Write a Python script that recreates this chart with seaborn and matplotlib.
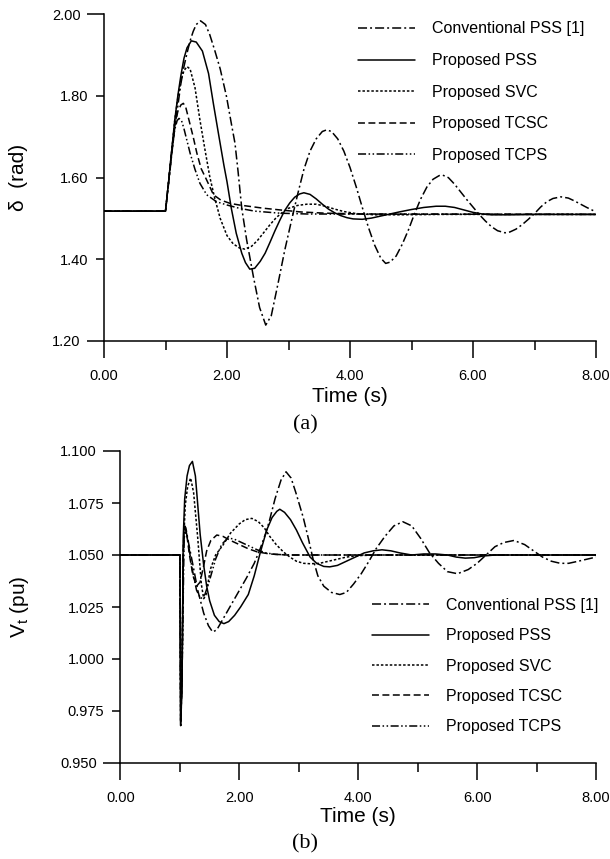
import numpy as np
import pandas as pd
import matplotlib
matplotlib.use("Agg")
import matplotlib.pyplot as plt
from matplotlib.lines import Line2D
import seaborn as sns

# ---------------------------------------------------------------- data
series_labels = ["Conventional PSS [1]", "Proposed PSS", "Proposed SVC",
                 "Proposed TCSC", "Proposed TCPS"]

# (a) rotor angle delta (rad) versus time (s)
t_delta_conv = [0.00, 1.00, 1.05, 1.10, 1.15, 1.20, 1.25, 1.30, 1.35, 1.40,
                1.45, 1.50, 1.57, 1.65, 1.72, 1.80, 1.89, 1.99, 2.07, 2.13,
                2.18, 2.24, 2.32, 2.43, 2.53, 2.63, 2.72, 2.83, 2.94, 3.05,
                3.15, 3.25, 3.35, 3.45, 3.55, 3.62, 3.70, 3.80, 3.90, 4.00,
                4.10, 4.20, 4.30, 4.40, 4.50, 4.58, 4.65, 4.75, 4.85, 4.95,
                5.05, 5.15, 5.25, 5.35, 5.45, 5.51, 5.60, 5.70, 5.80, 5.90,
                6.00, 6.10, 6.20, 6.30, 6.40, 6.52, 6.60, 6.70, 6.80, 6.90,
                7.00, 7.10, 7.20, 7.30, 7.43, 7.55, 7.65, 7.75, 7.85, 8.00]
delta_conv = [1.518, 1.518, 1.585, 1.655, 1.722, 1.775, 1.830, 1.872, 1.905, 1.935,
              1.958, 1.975, 1.984, 1.975, 1.950, 1.912, 1.866, 1.800, 1.733, 1.684,
              1.615, 1.525, 1.447, 1.357, 1.282, 1.239, 1.262, 1.341, 1.423, 1.496,
              1.560, 1.620, 1.665, 1.695, 1.713, 1.717, 1.713, 1.695, 1.665, 1.625,
              1.578, 1.527, 1.478, 1.435, 1.403, 1.390, 1.393, 1.408, 1.437, 1.472,
              1.512, 1.548, 1.577, 1.596, 1.605, 1.606, 1.600, 1.584, 1.565, 1.546,
              1.528, 1.510, 1.494, 1.480, 1.470, 1.465, 1.467, 1.474, 1.485, 1.498,
              1.512, 1.528, 1.541, 1.549, 1.553, 1.550, 1.543, 1.535, 1.527, 1.516]

t_delta_pss = [0.00, 1.00, 1.05, 1.10, 1.15, 1.20, 1.25, 1.30, 1.35, 1.42,
               1.50, 1.60, 1.70, 1.78, 1.87, 1.95, 2.00, 2.07, 2.15, 2.24,
               2.30, 2.37, 2.45, 2.54, 2.62, 2.70, 2.78, 2.86, 2.94, 3.02,
               3.10, 3.18, 3.25, 3.35, 3.45, 3.55, 3.65, 3.75, 3.85, 3.95,
               4.05, 4.20, 4.35, 4.50, 4.65, 4.80, 5.00, 5.20, 5.40, 5.55,
               5.70, 5.85, 6.00, 6.15, 6.30, 6.60, 7.00, 8.00]
delta_pss = [1.518, 1.518, 1.590, 1.665, 1.740, 1.800, 1.850, 1.892, 1.918, 1.935,
             1.932, 1.910, 1.855, 1.780, 1.700, 1.630, 1.590, 1.525, 1.464, 1.415,
             1.392, 1.376, 1.378, 1.395, 1.415, 1.442, 1.470, 1.496, 1.520, 1.538,
             1.552, 1.560, 1.563, 1.559, 1.548, 1.535, 1.523, 1.514, 1.507, 1.502,
             1.499, 1.498, 1.501, 1.506, 1.511, 1.516, 1.522, 1.527, 1.530, 1.530,
             1.527, 1.521, 1.515, 1.511, 1.509, 1.509, 1.510, 1.510]

t_delta_svc = [0.00, 1.00, 1.05, 1.10, 1.15, 1.20, 1.25, 1.30, 1.35, 1.40,
               1.48, 1.56, 1.64, 1.72, 1.80, 1.89, 2.00, 2.10, 2.20, 2.29,
               2.40, 2.50, 2.60, 2.70, 2.80, 2.90, 3.00, 3.15, 3.30, 3.45,
               3.60, 3.75, 3.90, 4.10, 4.40, 4.80, 5.50, 8.00]
delta_svc = [1.518, 1.518, 1.590, 1.665, 1.740, 1.795, 1.838, 1.862, 1.872, 1.866,
             1.820, 1.741, 1.670, 1.602, 1.550, 1.500, 1.458, 1.438, 1.428, 1.425,
             1.432, 1.447, 1.466, 1.485, 1.502, 1.515, 1.525, 1.532, 1.535, 1.535,
             1.530, 1.523, 1.517, 1.512, 1.509, 1.509, 1.510, 1.510]

t_delta_tcsc = [0.00, 1.00, 1.05, 1.10, 1.15, 1.20, 1.25, 1.29, 1.33, 1.38,
                1.45, 1.51, 1.58, 1.67, 1.78, 1.90, 2.05, 2.20, 2.40, 2.60,
                2.86, 3.20, 3.60, 4.20, 8.00]
delta_tcsc = [1.518, 1.518, 1.590, 1.662, 1.725, 1.762, 1.778, 1.782, 1.772, 1.742,
              1.700, 1.660, 1.622, 1.594, 1.558, 1.545, 1.537, 1.533, 1.529, 1.525,
              1.521, 1.516, 1.513, 1.511, 1.510]

t_delta_tcps = [0.00, 1.00, 1.05, 1.10, 1.15, 1.19, 1.22, 1.26, 1.30, 1.35,
                1.40, 1.48, 1.56, 1.67, 1.83, 2.00, 2.20, 2.45, 2.86, 3.30, 8.00]
delta_tcps = [1.518, 1.518, 1.590, 1.660, 1.718, 1.740, 1.745, 1.740, 1.720, 1.690,
              1.660, 1.620, 1.586, 1.558, 1.541, 1.533, 1.525, 1.518, 1.513, 1.511, 1.510]

# (b) terminal voltage Vt (pu) versus time (s)
t_vt_conv = [0.00, 1.00, 1.015, 1.035, 1.055, 1.08, 1.10, 1.15, 1.22, 1.30,
             1.40, 1.48, 1.55, 1.62, 1.72, 1.80, 1.90, 2.00, 2.12, 2.25,
             2.35, 2.45, 2.51, 2.60, 2.70, 2.785, 2.87, 2.95, 3.075, 3.16,
             3.24, 3.32, 3.42, 3.55, 3.69, 3.80, 3.92, 4.05, 4.18, 4.30,
             4.45, 4.60, 4.75, 4.90, 5.05, 5.20, 5.35, 5.50, 5.67, 5.85,
             6.00, 6.15, 6.30, 6.45, 6.62, 6.80, 6.95, 7.10, 7.25, 7.40,
             7.54, 7.70, 7.85, 8.00]
vt_conv = [1.050, 1.050, 0.968, 0.990, 1.050, 1.064, 1.063, 1.055, 1.045, 1.033,
           1.022, 1.016, 1.013, 1.014, 1.019, 1.023, 1.028, 1.033, 1.039, 1.046,
           1.053, 1.061, 1.067, 1.077, 1.086, 1.090, 1.087, 1.080, 1.068, 1.058,
           1.048, 1.040, 1.035, 1.032, 1.031, 1.032, 1.036, 1.041, 1.047, 1.053,
           1.059, 1.064, 1.066, 1.064, 1.058, 1.051, 1.046, 1.042, 1.041, 1.043,
           1.046, 1.050, 1.054, 1.056, 1.057, 1.055, 1.052, 1.049, 1.047, 1.046,
           1.046, 1.047, 1.048, 1.049]

t_vt_pss = [0.00, 1.00, 1.01, 1.035, 1.055, 1.08, 1.12, 1.16, 1.21, 1.26,
            1.34, 1.40, 1.45, 1.50, 1.58, 1.66, 1.74, 1.82, 1.92, 2.02,
            2.15, 2.25, 2.35, 2.46, 2.55, 2.63, 2.68, 2.76, 2.86, 2.96,
            3.06, 3.19, 3.30, 3.42, 3.52, 3.65, 3.80, 3.95, 4.10, 4.25,
            4.40, 4.55, 4.70, 4.90, 5.10, 5.30, 5.50, 5.65, 5.80, 5.95,
            6.10, 6.30, 8.00]
vt_pss = [1.050, 1.050, 0.968, 0.985, 1.058, 1.077, 1.088, 1.093, 1.095, 1.088,
          1.060, 1.045, 1.035, 1.028, 1.021, 1.018, 1.017, 1.018, 1.021, 1.025,
          1.031, 1.040, 1.051, 1.062, 1.068, 1.071, 1.072, 1.0705, 1.067, 1.062,
          1.056, 1.049, 1.046, 1.0445, 1.0443, 1.045, 1.047, 1.049, 1.051, 1.052,
          1.0525, 1.052, 1.051, 1.050, 1.0505, 1.0505, 1.050, 1.049, 1.0485, 1.0487,
          1.0495, 1.050, 1.050]

t_vt_svc = [0.00, 1.00, 1.012, 1.035, 1.06, 1.09, 1.13, 1.18, 1.23, 1.30,
            1.36, 1.40, 1.44, 1.51, 1.60, 1.73, 1.85, 2.00, 2.10, 2.21,
            2.32, 2.42, 2.51, 2.62, 2.74, 2.85, 2.96, 3.08, 3.19, 3.35,
            3.50, 3.65, 3.80, 4.00, 4.30, 8.00]
vt_svc = [1.050, 1.050, 0.970, 0.990, 1.055, 1.074, 1.083, 1.087, 1.080, 1.058,
          1.036, 1.029, 1.031, 1.043, 1.050, 1.055, 1.0605, 1.065, 1.067, 1.0676,
          1.066, 1.063, 1.059, 1.055, 1.0515, 1.049, 1.047, 1.046, 1.0458, 1.046,
          1.047, 1.048, 1.049, 1.0497, 1.050, 1.050]

t_vt_tcsc = [0.00, 1.00, 1.012, 1.035, 1.06, 1.08, 1.11, 1.16, 1.22, 1.28,
             1.34, 1.40, 1.45, 1.52, 1.62, 1.72, 1.85, 2.00, 2.15, 2.30,
             2.51, 2.80, 8.00]
vt_tcsc = [1.050, 1.050, 0.970, 0.995, 1.056, 1.063, 1.061, 1.050, 1.040, 1.035,
           1.037, 1.045, 1.052, 1.057, 1.0596, 1.059, 1.057, 1.055, 1.053, 1.0515,
           1.0505, 1.050, 1.050]

t_vt_tcps = [0.00, 1.00, 1.015, 1.04, 1.07, 1.10, 1.14, 1.20, 1.28, 1.35,
             1.42, 1.50, 1.60, 1.70, 1.80, 1.90, 2.00, 2.15, 2.30, 2.45,
             2.60, 2.90, 8.00]
vt_tcps = [1.050, 1.050, 0.972, 1.000, 1.058, 1.062, 1.056, 1.044, 1.033, 1.029,
           1.031, 1.038, 1.048, 1.055, 1.058, 1.0578, 1.0565, 1.0545, 1.0525, 1.051,
           1.0503, 1.050, 1.050]

x_ticks = [0, 2, 4, 6, 8]
x_ticklabels = ["0.00", "2.00", "4.00", "6.00", "8.00"]
x_minor = [1, 3, 5, 7]
delta_inner = [1.4, 1.6, 1.8]
delta_inner_labels = ["1.40", "1.60", "1.80"]
delta_ends = [1.2, 2.0]
delta_end_labels = ["1.20", "2.00"]
vt_inner = [0.975, 1.0, 1.025, 1.05, 1.075]
vt_inner_labels = ["0.975", "1.000", "1.025", "1.050", "1.075"]
vt_ends = [0.95, 1.10]
vt_end_labels = ["0.950", "1.100"]

# ---------------------------------------------------------------- style
sns.set_theme(context="paper", style="ticks")
plt.rcParams["font.family"] = ["Liberation Sans", "DejaVu Sans"]
plt.rcParams["mathtext.fontset"] = "custom"
plt.rcParams["mathtext.rm"] = "Liberation Sans"
plt.rcParams["mathtext.it"] = "Liberation Sans"
plt.rcParams["lines.scale_dashes"] = False
for key in ["axes.edgecolor", "xtick.color", "ytick.color", "text.color",
            "axes.labelcolor"]:
    plt.rcParams[key] = "black"

LW = 1.1
dash_styles = {
    series_labels[0]: (6.5, 2.2, 1.4, 2.2),
    series_labels[1]: "",
    series_labels[2]: (1.8, 1.4),
    series_labels[3]: (5.0, 2.5),
    series_labels[4]: (5.8, 1.8, 1.1, 1.8, 1.1, 1.8),
}


def long_frame(times, values):
    parts = [pd.DataFrame({"t": t, "v": v, "series": name})
             for name, t, v in zip(series_labels, times, values)]
    return pd.concat(parts, ignore_index=True)


df_delta = long_frame(
    [t_delta_conv, t_delta_pss, t_delta_svc, t_delta_tcsc, t_delta_tcps],
    [delta_conv, delta_pss, delta_svc, delta_tcsc, delta_tcps])
df_vt = long_frame(
    [t_vt_conv, t_vt_pss, t_vt_svc, t_vt_tcsc, t_vt_tcps],
    [vt_conv, vt_pss, vt_svc, vt_tcsc, vt_tcps])

W, H = 610, 859
fig = plt.figure(figsize=(W / 100, H / 100), dpi=100)
fig.patch.set_facecolor("white")

# axes rectangles in pixels: left, right, top, bottom
ax1 = fig.add_axes([104 / W, 1 - 341 / H, (596 - 104) / W, (341 - 14.3) / H])
ax2 = fig.add_axes([120.5 / W, 1 - 763 / H, (596 - 120.5) / W, (763 - 451) / H])


def style_axes(ax, ylim, inner, inner_labels, ends, end_labels):
    ax.set_xlim(0, 8)
    ax.set_ylim(*ylim)
    sns.despine(ax=ax)
    for side in ["left", "bottom"]:
        ax.spines[side].set_linewidth(1.1)
        ax.spines[side].set_color("black")
    ax.set_xticks(x_ticks, labels=x_ticklabels)
    ax.set_xticks(x_minor, minor=True)
    ax.set_yticks(inner, labels=inner_labels)
    ax.set_yticks(ends, labels=end_labels, minor=True)
    ax.tick_params(axis="x", which="major", direction="out", length=11.9,
                   width=1.1, pad=8, labelsize=10.5, bottom=True)
    ax.tick_params(axis="x", which="minor", direction="out", length=6.5,
                   width=1.1, bottom=True)
    ax.tick_params(axis="y", which="major", direction="out", length=6.1,
                   width=1.1, pad=5.5, labelsize=10.5, left=True)
    ax.tick_params(axis="y", which="minor", direction="out", length=12,
                   width=1.1, pad=5, labelsize=10.5, left=True)
    ax.set_facecolor("white")
    ax.grid(False)


for ax, df in [(ax1, df_delta), (ax2, df_vt)]:
    sns.lineplot(data=df, x="t", y="v", style="series", style_order=series_labels,
                 dashes=dash_styles, color="black", linewidth=LW, sort=False,
                 estimator=None, legend=False, ax=ax)

style_axes(ax1, (1.2, 2.0), delta_inner, delta_inner_labels, delta_ends, delta_end_labels)
style_axes(ax2, (0.95, 1.10), vt_inner, vt_inner_labels, vt_ends, vt_end_labels)

ax1.set_xlabel("Time (s)", fontsize=15, va="center")
ax1.xaxis.set_label_coords(0.5, (341 - 396) / (341 - 14.3))
ax1.set_ylabel("δ  (rad)", fontsize=15, va="center", ha="center")
ax1.yaxis.set_label_coords((18 - 104) / (596 - 104), 0.5)

ax2.set_xlabel("Time (s)", fontsize=15, va="center")
ax2.xaxis.set_label_coords(0.5, (763 - 817) / (763 - 451))
ax2.set_ylabel(r"$\mathregular{V_t}$ (pu)", fontsize=15, va="center", ha="center")
ax2.yaxis.set_label_coords((19.5 - 120.5) / (596 - 120.5), 0.5)


def legend_handles():
    hs = []
    for name in series_labels:
        d = dash_styles[name]
        if d == "":
            hs.append(Line2D([], [], color="black", lw=LW, linestyle="-"))
        else:
            hs.append(Line2D([], [], color="black", lw=LW, dashes=d))
    return hs


leg_kw = dict(loc="upper left", frameon=False, fontsize=11.5, handlelength=3.56,
              handletextpad=1.06, borderpad=0, borderaxespad=0)
ax1.legend(legend_handles(), series_labels, labelspacing=1.04,
           bbox_to_anchor=((358 - 104) / 492, 1 - (21.5 - 14.3) / 326.7), **leg_kw)
ax2.legend(legend_handles(), series_labels, labelspacing=0.96,
           bbox_to_anchor=((372 - 120.5) / 475.5, (763 - 598) / 312), **leg_kw)

fig.text(0.5, 1 - 425 / H, "(a)", ha="center", va="center",
         family=["Liberation Serif", "DejaVu Serif"], fontsize=16)
fig.text(0.5, 1 - 844 / H, "(b)", ha="center", va="center",
         family=["Liberation Serif", "DejaVu Serif"], fontsize=16)

fig.savefig("out.png", dpi=100, facecolor="white")
